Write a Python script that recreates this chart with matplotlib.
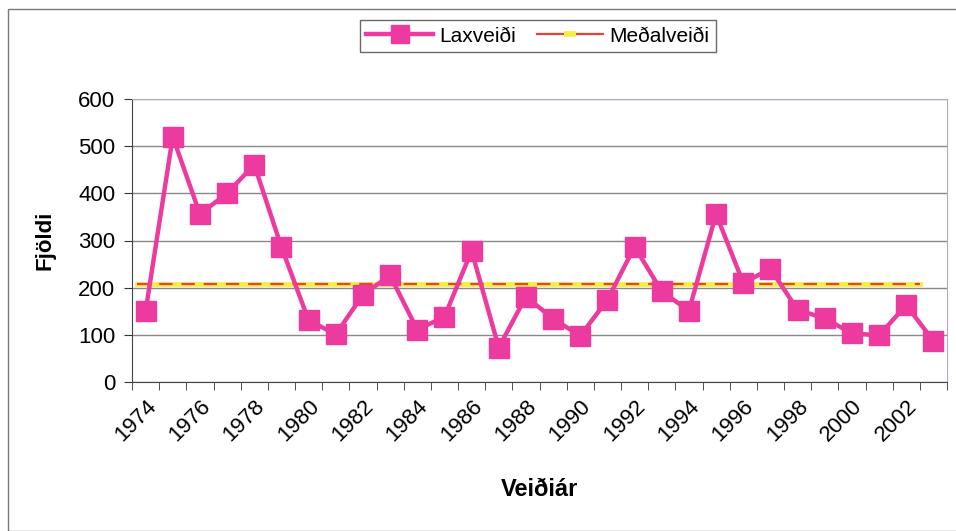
import matplotlib.pyplot as plt
from matplotlib.lines import Line2D
from matplotlib.patches import Rectangle
import numpy as np

plt.rcParams['font.family'] = ['Liberation Sans', 'DejaVu Sans']

years = list(range(1974, 2004))
catch = [150, 520, 356, 400, 461, 286, 131, 101, 185, 226,
         111, 138, 278, 73, 181, 134, 98, 174, 287, 192,
         151, 356, 210, 240, 153, 135, 103, 99, 163, 87]
mean_catch = 208
yticks = [0, 100, 200, 300, 400, 500, 600]

pink = '#EC3A9E'
red = '#E8403C'
yellow = '#F4F040'

fig = plt.figure(figsize=(9.56, 5.31), dpi=100)
fig.patches.append(Rectangle((8/956, 0), 1, 1 - 9/531, transform=fig.transFigure,
                             fill=False, edgecolor='#777777', linewidth=1))

ax = fig.add_axes([132/956, 1 - 382/531, (947 - 132)/956, (382 - 99)/531])
x = np.arange(len(years))

# mean line: yellow under red dashes
ax.plot([-0.3, 28.5], [mean_catch, mean_catch], color=yellow, linewidth=3.5, zorder=2)
ax.plot([-0.3, 28.5], [mean_catch, mean_catch], color=red, linewidth=1.6,
        dashes=(6, 4), zorder=2)

ax.plot(x, catch, color=pink, linewidth=3.2, marker='s', markersize=15,
        markeredgecolor=pink, zorder=3)

ax.set_xlim(-0.5, len(years) - 0.5)
ax.set_ylim(0, 600)
ax.set_yticks(yticks)
ax.set_yticklabels([str(v) for v in yticks], fontsize=16)
ax.set_xticks(x[::2])
ax.set_xticklabels([str(y) for y in years[::2]], rotation=45, ha='right',
                   rotation_mode='anchor', fontsize=16)
ax.set_xticks(np.arange(-0.5, len(years)), minor=True)
ax.tick_params(axis='x', which='major', length=0, pad=10)
ax.tick_params(axis='x', which='minor', length=6, color='#333333')
ax.tick_params(axis='y', length=6, color='#333333', pad=6)

ax.grid(axis='y', color='#888888', linewidth=1)
ax.set_axisbelow(True)
for s in ['top', 'right']:
    ax.spines[s].set_color('#B8A8C0')
for s in ['left', 'bottom']:
    ax.spines[s].set_color('#444444')

fig.text(45/956, 1 - 240/531, 'Fjöldi', rotation=90, ha='center', va='center',
         fontsize=16, fontweight='bold')
fig.text(540/956, 1 - 490/531, 'Veiðiár', ha='center', va='center',
         fontsize=17, fontweight='bold')

h1 = Line2D([], [], color=pink, linewidth=3.2, marker='s', markersize=13)
h2 = Line2D([], [], color=red, linewidth=1.6, marker='_', markersize=9,
            markeredgewidth=4, markeredgecolor=yellow)
leg = fig.legend([h1, h2], ['Laxveiði', 'Meðalveiði'], numpoints=1,
                 loc='center', bbox_to_anchor=(538/956, 1 - 36/531), ncol=2,
                 fontsize=15, frameon=True, fancybox=False, edgecolor='#444444',
                 handlelength=3.2, handletextpad=0.3, columnspacing=1.0,
                 borderpad=0.3)
leg.get_frame().set_linewidth(1)

fig.savefig('out.png', dpi=100)
